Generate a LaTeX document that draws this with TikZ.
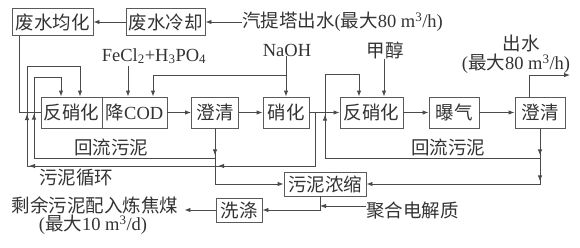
\documentclass[tikz,border=0pt]{standalone}
\usepackage{fontspec}
\setmainfont{Liberation Serif}
\newfontfamily\cjk{Noto Sans CJK SC}
\usetikzlibrary{arrows.meta,decorations.markings}
\definecolor{linec}{HTML}{4A4A4A}
\definecolor{boxc}{HTML}{5A5A5A}
\definecolor{txtc}{HTML}{333333}
\tikzset{
  tipa/.tip={Latex[length=6pt,width=4.5pt]},
  every node/.style={font=\fontsize{18.5}{21}\selectfont, text=txtc},
  box/.style={draw=boxc, line width=0.9pt, inner sep=0pt, minimum height=31pt, fill=white},
  lbl/.style={inner sep=0pt},
  ln/.style={draw=linec, line width=0.9pt},
  arr/.style={ln, -{tipa}},
  onemark/.style={postaction={decorate}, decoration={markings, mark=at position #1 with {\arrow{tipa}}}},
  twomarks/.style 2 args={postaction={decorate}, decoration={markings,
     mark=at position #1 with {\arrow{tipa}}, mark=at position #2 with {\arrow{tipa}}}},
  threemarks/.style n args={3}{postaction={decorate}, decoration={markings,
     mark=at position #1 with {\arrow{tipa}}, mark=at position #2 with {\arrow{tipa}},
     mark=at position #3 with {\arrow{tipa}}}}
}
\begin{document}
\begin{tikzpicture}[x=1pt,y=-1pt]
\useasboundingbox (0,0) rectangle (580,247);
% boxes
\node[box, minimum width=81pt, minimum height=27pt] (jh) at (52.5,22) {\cjk 废水均化};
\node[box, minimum width=79pt, minimum height=27pt] (lq) at (165.5,22) {\cjk 废水冷却};
\node[lbl, anchor=west] (src) at (242,22) {{\cjk 汽提塔出水}({\cjk 最大}80 m\textsuperscript{3}/h)};
\node[box, minimum width=61pt] (fx) at (71.5,112.5) {\cjk 反硝化};
\node[box, minimum width=65pt] (cod) at (134.5,112.5) {{\cjk 降}COD};
\node[box, minimum width=47pt] (cq1) at (215,112.5) {\cjk 澄清};
\node[box, minimum width=46pt] (xh) at (286,112.5) {\cjk 硝化};
\node[box, minimum width=63pt] (fx2) at (371.5,112.5) {\cjk 反硝化};
\node[box, minimum width=50pt] (bq) at (454,112.5) {\cjk 曝气};
\node[box, minimum width=50pt] (cq2) at (540,112.5) {\cjk 澄清};
\node[box, minimum width=82pt, minimum height=24pt] (nz) at (325,184) {\cjk 污泥浓缩};
\node[box, minimum width=46pt, minimum height=24pt] (xd) at (239,210) {\cjk 洗涤};
% labels
\node[lbl] (fe) at (154,56) {FeCl\textsubscript{2}+H\textsubscript{3}PO\textsubscript{4}};
\node[lbl] (naoh) at (287,50) {NaOH};
\node[lbl] (jc) at (385,50) {\cjk 甲醇};
\node[lbl] (cs1) at (521,43) {\cjk 出水};
\node[lbl] (cs2) at (516,64) {({\cjk 最大}80 m\textsuperscript{3}/h)};
\node[lbl] (hl1) at (111,147) {\cjk 回流污泥};
\node[lbl] (hl2) at (448,147) {\cjk 回流污泥};
\node[lbl] (xhh) at (76,178) {\cjk 污泥循环};
\node[lbl] (sy1) at (95,205) {\cjk 剩余污泥配入炼焦煤};
\node[lbl] (sy2) at (93,225) {({\cjk 最大}10 m\textsuperscript{3}/d)};
\node[lbl, anchor=west] (pe) at (366,211) {\cjk 聚合电解质};
% helper coordinates
\coordinate (j0) at ([xshift=8pt]jh.south west);
\coordinate (fe1) at ([xshift=-6.5pt]cod.north);
\coordinate (fe0) at ([yshift=-2pt]fe.south);
\coordinate (nb) at (286,75);
\coordinate (cod2) at ([xshift=18.5pt]cod.north);
\coordinate (fx2a) at ([xshift=12.5pt]fx2.north);
\coordinate (o1) at ([xshift=-11pt]cq2.north);
\coordinate (oe) at (570,75);
\coordinate (s1) at (315,112.5);
\coordinate (s2) at (27,166);
\coordinate (s3) at (27,66);
\coordinate (fxa) at ([xshift=8.5pt]fx.north);
\coordinate (r1) at (34,158);
\coordinate (r2) at (34,77);
\coordinate (fxb) at ([xshift=-10.5pt]fx.north);
\coordinate (q1) at (325,158);
\coordinate (q2) at (325,74);
\coordinate (fx2b) at ([xshift=-12.5pt]fx2.north);
\coordinate (nzb) at ([xshift=-5pt]nz.south);
\coordinate (pw) at ([yshift=5pt]pe.west);
\coordinate (sye) at ([xshift=6pt]sy1.east);
% top
\draw[arr] (src.west) -- (lq.east);
\draw[arr] (lq.west) -- (jh.east);
\draw[ln] (j0) |- (fx.west);
\draw[arr] (fe1 |- fe0) -- (fe1);
\draw[arr] (xh.north |- naoh.south) -- (xh.north);
\draw[arr] (nb) -| (cod2);
\draw[arr] (fx2a |- jc.south) -- (fx2a);
% main line
\draw[arr] (cod.east) -- (cq1.west);
\draw[arr] (cq1.east) -- (xh.west);
\draw[arr] (xh.east) -- (fx2.west);
\draw[arr] (fx2.east) -- (bq.west);
\draw[arr] (bq.east) -- (cq2.west);
\draw[arr] (o1) |- (oe);
% loops
\draw[arr, threemarks={150.5pt}{339.5pt}{393.5pt}] (s1) |- (s2) -- (s3) -| (fxa);
\draw[arr, twomarks={27pt}{255pt}] (cq1.south) |- (r1) -- (r2) -| (fxb);
\draw[arr] (cq1.south) |- (nz.west);
\draw[arr, twomarks={27pt}{288pt}] (cq2.south) |- (q1) -- (q2) -| (fx2b);
\draw[arr, onemark={53pt}] (cq2.south) |- (nz.east);
% bottom
\draw[arr] (nzb) |- (xd.east);
\draw[arr] (pw) -- (pw -| nzb);
\draw[arr] (xd.west) -- (xd.west -| sye);
\end{tikzpicture}
\end{document}
